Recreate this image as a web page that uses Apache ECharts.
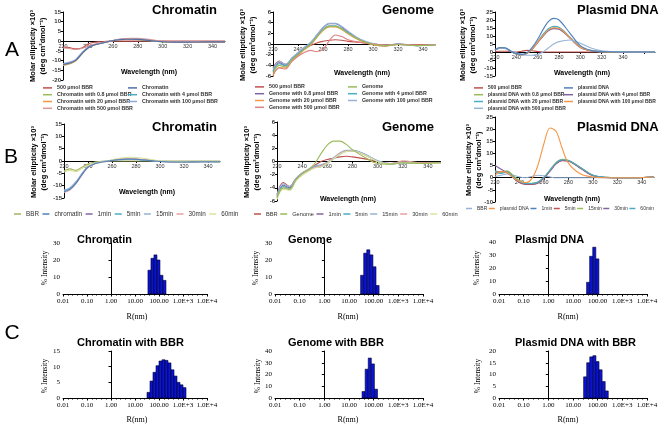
<!DOCTYPE html>
<html><head><meta charset="utf-8">
<script src="https://cdn.jsdelivr.net/npm/echarts@6/dist/echarts.min.js"></script>
<style>html,body{margin:0;padding:0;background:#fff}#c{width:661px;height:429px}</style>
</head><body><div id="c"></div>
<script>
// ---------- CD spectra data (wavelength nm, ellipticity x10^3) ----------
const WL = [220,225,230,235,240,245,250,255,260,265,270,275,280,290,300,310,320,335,350];
const WL_A3 = [220,225,230,235,240,245,250,255,260,265,270,275,280,290,300,310,320,335,350,370];

const A1_NAMES = ['500 μmol BBR','Chromatin','Chromatin with 0.8 μmol BBR','Chromatin with 4 μmol BBR','Chromatin with 20 μmol BBR','Chromatin with 100 μmol BBR','Chromatin with 500 μmol BBR'];
const A1_BBR  = [-3,-3.3,-4,-3.5,-1.5,-0.6,-0.3,-0.1,0,0,0,0,0,0,0,0,0,0,0];
const A1_CHR  = [-12,-11.4,-10,-6.5,-3.5,-2,-1.2,-0.4,0.2,0.7,1.0,1.0,0.9,0.3,-0.3,-0.5,-0.5,-0.4,-0.4];
const A1_C08  = [-12.5,-11.8,-10.3,-6.8,-3.6,-2.1,-1.2,-0.5,0.2,0.7,0.9,1.0,0.8,0.2,-0.4,-0.6,-0.6,-0.5,-0.5];
const A1_C4   = [-11.8,-11.2,-9.8,-6.3,-3.3,-1.9,-1.1,-0.4,0.3,0.8,1.1,1.1,1.0,0.3,-0.3,-0.5,-0.4,-0.4,-0.4];
const A1_C20  = [-12.3,-11.6,-10.1,-6.6,-3.5,-2.0,-1.1,-0.4,0.2,0.8,1.0,1.1,1.0,0.3,-0.3,-0.6,-0.5,-0.5,-0.5];
const A1_C100 = [-11.5,-10.8,-9.5,-6.1,-3.2,-1.8,-1.0,-0.3,0.3,0.9,1.2,1.2,1.1,0.4,-0.2,-0.4,-0.4,-0.3,-0.3];
const A1_C500 = [-3.5,-3.8,-4.3,-3.8,-2.5,-1.6,-1.0,-0.4,0.3,0.9,1.3,1.5,1.5,0.8,0,-0.3,-0.3,-0.3,-0.3];

const A2_NAMES = ['500 μmol BBR','Genome','Genome with 0.8 μmol BBR','Genome with 4 μmol BBR','Genome with 20 μmol BBR','Genome with 100 μmol BBR','Genome with 500 μmol BBR'];
const A2_BBR  = [-4.5,-3.2,-3.8,-3,-2,-1,-0.3,0.2,0.5,0.7,0.8,0.7,0.5,0.3,0,-0.2,0,-0.2,-0.1];
const A2_GEN  = [-5.5,-4,-4.3,-3,-2,-1,-0.1,1.3,2.6,3.3,3.3,2.8,2.0,0.7,-0.1,-0.3,-0.1,-0.3,-0.2];
const A2_G08  = [-5,-3.5,-4,-2.7,-1.7,-0.7,0.2,1.6,3.0,3.8,3.8,3.2,2.3,0.8,0,-0.3,0,-0.3,-0.1];
const A2_G4   = [-5.2,-3.7,-4.1,-2.9,-1.9,-0.9,0,1.4,2.7,3.4,3.4,2.9,2.1,0.7,-0.1,-0.4,-0.1,-0.3,-0.2];
const A2_G20  = [-6,-4.4,-4.5,-3.2,-2.2,-1.1,-0.2,1.2,2.5,3.2,3.2,2.7,1.9,0.6,-0.2,-0.4,-0.1,-0.2,-0.2];
const A2_G100 = [-4.8,-3.3,-3.8,-2.6,-1.6,-0.6,0.3,1.7,3.1,3.9,3.9,3.3,2.4,0.9,0.1,-0.2,0,-0.3,-0.1];
const A2_G500 = [-5.8,-4.5,-4.7,-3.3,-2.3,-1.6,-1.2,-1.4,-1,0.6,1.7,1.4,0.8,0.3,0,-0.2,-0.1,-0.2,-0.2];

const A3_NAMES = ['500 μmol BBR','plasmid DNA','plasmid DNA with 0.8 μmol BBR','plasmid DNA with 4 μmol BBR','plasmid DNA with 20 μmol BBR','plasmid DNA with 100 μmol BBR','plasmid DNA with 500 μmol BBR'];
const A3_BBR  = [0.3,0.5,0.5,0.3,0,0.5,1,0.8,0.3,0,0,0,0,0,0,0,0,0,0,0];
const A3_PLA  = [1.5,2.8,2.5,0.5,-1,-1.5,-0.5,3,8,14,19,21,20,12,4,1,0.3,0,0,0];
const A3_P08  = [1.2,2.5,2.3,0.3,-1.2,-1.7,-0.8,2,6,10,13.5,15,14.5,9,3,0.8,0.2,0,0,0];
const A3_P4   = [1.0,2.3,2.2,0.2,-1.3,-1.8,-0.9,1.8,5.8,9.8,13.2,14.6,14.2,8.8,2.8,0.7,0.2,0,0,0];
const A3_P20  = [1.3,2.6,2.4,0.4,-1.1,-1.6,-0.7,2.3,6.5,11,14.5,16,15.5,9.5,3.2,0.8,0.2,0,0,0];
const A3_P100 = [1.4,2.7,2.4,0.4,-1.2,-1.7,-0.8,2,6.2,10.3,13.8,15.2,14.8,9.2,3,0.8,0.2,0,0,0];
const A3_P500 = [1.5,2.5,2.0,0.5,-0.5,-1.5,-2,-2,-1.5,0,2.5,5,6.5,7.5,5.5,2.5,0.8,0.2,0,0];

const B1_NAMES = ['BBR','chromatin','1min','5min','15min','30min','60min'];
const B1_BBR = [-4,-3.2,-3.8,-2.5,-1.2,-0.5,-0.2,0,0,0,0,0,0,0,0,0,0,0,0];
const B1_CHR = [-12.5,-11.5,-9,-5.5,-2.5,-1.2,-0.6,-0.2,0.2,0.5,0.7,0.8,0.7,0.3,-0.2,-0.4,-0.4,-0.3,-0.3];
const B1_T1  = [-12,-11,-8.6,-5.2,-2.3,-1.1,-0.5,-0.1,0.3,0.6,0.8,0.8,0.7,0.3,-0.2,-0.4,-0.4,-0.3,-0.3];
const B1_T5  = [-12.2,-11.2,-8.8,-5.3,-2.4,-1.1,-0.5,-0.1,0.2,0.5,0.6,0.7,0.6,0.2,-0.2,-0.4,-0.4,-0.3,-0.4];
const B1_T15 = [-11.8,-10.8,-8.4,-5,-2.2,-1,-0.4,0,0.3,0.6,0.8,0.9,0.8,0.4,-0.1,-0.3,-0.3,-0.3,-0.3];
const B1_T30 = [-12.8,-11.8,-9.2,-5.6,-2.6,-1.3,-0.6,-0.2,0.2,0.6,0.9,1.0,0.9,0.4,-0.2,-0.4,-0.4,-0.3,-0.3];
const B1_T60 = [-4.5,-3.8,-4.3,-3,-1.8,-1,-0.4,0,0.5,1,1.3,1.5,1.4,0.8,0,-0.3,-0.3,-0.3,-0.3];

const B2_NAMES = ['BBR','Genome','1min','5min','15min','30min','60min'];
const B2_BBR = [-5,-3.2,-3.8,-2.6,-1.8,-1.2,-0.6,0,0.3,0.5,0.7,0.8,0.7,0.4,0,-0.3,-0.1,-0.2,-0.2];
const B2_GEN = [-5.5,-4,-4.2,-2.8,-1.8,-1.2,-0.3,1.2,2.5,3.1,3.1,2.6,1.8,0.6,-0.3,-0.4,-0.2,-0.3,-0.2];
const B2_T1  = [-5.2,-3.6,-4,-2.7,-1.8,-1.3,-0.8,-0.6,-0.2,0.5,1.2,1.6,1.6,1.0,0,-0.4,-0.2,-0.3,-0.2];
const B2_T5  = [-5.4,-3.8,-4.1,-2.8,-1.9,-1.4,-0.9,-0.8,-0.3,0.4,1.1,1.6,1.7,1.1,0.1,-0.4,-0.2,-0.3,-0.2];
const B2_T15 = [-5,-3.4,-3.8,-2.6,-1.7,-1.2,-0.7,-0.5,-0.1,0.6,1.3,1.7,1.7,1.1,0.1,-0.3,-0.1,-0.3,-0.2];
const B2_T30 = [-5.6,-4,-4.3,-2.9,-2,-1.4,-0.9,-0.7,-0.2,0.5,1.2,1.6,1.6,1.0,0,-0.4,0.1,-0.2,-0.2];
const B2_T60 = [-5.8,-4.2,-4.4,-3,-2.1,-1.5,-1,-0.8,-0.3,0.4,1.1,1.5,1.6,1.0,0,-0.4,-0.2,-0.3,-0.3];

const B3_NAMES = ['BBR','plasmid DNA','1min','5min','15min','30min','60min'];
const B3_BBR = [0.5,1,1.5,1,0.3,0,0.5,1,0.8,0.3,0,0,0,0,0,0,0,0,0.3];
const B3_PLA = [1,2.5,2,0,-1.5,-2,-0.5,5,14,20.5,19,12,6,1.5,0.3,0,0,0,0.3];
const B3_T1  = [3,2,2.5,0.5,-1.5,-2.5,-2.5,-2,0,3,6,7.3,7,4,1,0.2,0,0,0.3];
const B3_T5  = [2,2.5,2,0,-2,-2.8,-2.8,-2.3,-0.3,2.7,5.7,7.0,6.8,3.8,0.8,0.1,0,0,0.3];
const B3_T15 = [2.5,2,2.8,0.8,-1.2,-2.2,-2.3,-1.8,0.2,3.2,6.3,7.6,7.2,4.2,1,0.2,0,0,0.3];
const B3_T30 = [5,3.5,2,0,-1.8,-2.6,-2.6,-2.1,-0.1,2.9,5.9,7.2,7.0,4,0.9,0.1,0,0,0.3];
const B3_T60 = [2.2,1.8,2.2,0.3,-1.6,-2.4,-2.4,-1.9,0.1,3.1,6.1,7.4,7.1,4.1,1,0.2,0,0,0.3];

// ---------- DLS histograms (bin centre radius nm, % intensity) ----------
const C1_CHR_R = [40.0,53.4,71.2,95.0,126.6,168.9];
const C1_CHR_V = [14,21,23,20,11,8];
const C1_GEN_R = [34.1,45.5,60.6,80.8,107.8,143.7];
const C1_GEN_V = [11,24,26,23,16,5];
const C1_PLA_R = [41.0,54.6,72.9,97.2];
const C1_PLA_V = [9,29,36,27];
const C2_CHR_R = [36.5,48.7,64.9,86.6,115.5,154.0,205.4,273.8,365.2,486.9,649.4,865.9,1154.8];
const C2_CHR_V = [1.8,5.4,8.2,10.3,11.8,12.2,12.0,11.2,9.0,7.0,5.0,4.2,3.3];
const C2_GEN_R = [39.1,52.2,69.6,92.8,123.7];
const C2_GEN_V = [5.5,24.5,34,29,7.5];
const C2_PLA_R = [31.1,41.5,55.3,73.7,98.3,131.1,174.8,233.1];
const C2_PLA_V = [9,15,17.5,18,15.5,12,7,3];
const BIN = 0.125; // log10 width of a DLS bin

const DLS_TICKS = {'-2':'0.01','-1':'0.10','0':'1.00','1':'10.00','2':'100.00','3':'1.0E+3','4':'1.0E+4'};

const SANS = 'Liberation Sans, Arial, sans-serif';
const SERIF = 'Liberation Serif, Times New Roman, serif';

const CD = [
  {k:'A1', grid:{left:63,top:12,width:162,height:68}, xmax:350, y:[-20,15,5], wl:WL, names:A1_NAMES,
   data:[A1_BBR,A1_CHR,A1_C08,A1_C4,A1_C20,A1_C100,A1_C500],
   colors:['#C0504D','#4F6FA8','#9BBB59','#4BACC6','#F79646','#8FA9D6','#D99694'], leg:{type:'A', x1:43, x2:128, top:84.5, fs:5.3}},
  {k:'A2', grid:{left:273,top:12,width:162.5,height:64}, xmax:350, y:[-6,6,2], wl:WL, names:A2_NAMES,
   data:[A2_BBR,A2_GEN,A2_G08,A2_G4,A2_G20,A2_G100,A2_G500],
   colors:['#C0504D','#9BBB59','#8064A2','#4BACC6','#F79646','#95B3D7','#E08080'], leg:{type:'A', x1:255, x2:348, top:83.5, fs:5.3}},
  {k:'A3', grid:{left:495,top:12,width:160,height:64}, xmax:370, y:[-15,25,5], wl:WL_A3, names:A3_NAMES,
   data:[A3_BBR,A3_PLA,A3_P08,A3_P4,A3_P20,A3_P100,A3_P500],
   colors:['#C0504D','#4F81BD','#9BBB59','#8064A2','#4BACC6','#F79646','#95B3D7'], leg:{type:'A', x1:474, x2:564, top:84.5, fs:5.0}},
  {k:'B1', grid:{left:64,top:124,width:156,height:74}, xmax:350, y:[-15,15,5], wl:WL, names:B1_NAMES,
   data:[B1_BBR,B1_CHR,B1_T1,B1_T5,B1_T15,B1_T30,B1_T60],
   colors:['#A8B060','#4F81BD','#8064A2','#4BACC6','#95B3D7','#E6A0A0','#D7E4A0'], leg:{type:'B', x:14, top:211, fs:6.3, gap:3.5, iw:7}},
  {k:'B2', grid:{left:277,top:122,width:163.5,height:79}, xmax:350, y:[-6,6,2], wl:WL, names:B2_NAMES,
   data:[B2_BBR,B2_GEN,B2_T1,B2_T5,B2_T15,B2_T30,B2_T60],
   colors:['#C0504D','#9BBB59','#8064A2','#4BACC6','#95B3D7','#E6A0A0','#D7E4A0'], leg:{type:'B', x:254, top:211, fs:5.7, gap:2.5, iw:7}},
  {k:'B3', grid:{left:495,top:117,width:159,height:85}, xmax:350, y:[-10,25,5], wl:WL, names:B3_NAMES,
   data:[B3_BBR,B3_PLA,B3_T1,B3_T5,B3_T15,B3_T30,B3_T60],
   colors:['#95B3D7','#F79646','#4F81BD','#C0504D','#9BBB59','#8064A2','#4BACC6'], leg:{type:'B', x:466, top:206, fs:5.0, gap:1.5, iw:6}}
];

const DLS = [
  {grid:{left:63,top:243,width:144,height:51}, y:[0,30,10], R:C1_CHR_R, v:C1_CHR_V},
  {grid:{left:275,top:243,width:148,height:51}, y:[0,30,10], R:C1_GEN_R, v:C1_GEN_V},
  {grid:{left:499,top:242,width:148,height:52}, y:[0,40,10], R:C1_PLA_R, v:C1_PLA_V},
  {grid:{left:63,top:351,width:144,height:47}, y:[0,15,5], R:C2_CHR_R, v:C2_CHR_V},
  {grid:{left:275,top:351,width:148,height:47}, y:[0,40,10], R:C2_GEN_R, v:C2_GEN_V},
  {grid:{left:499,top:351,width:148,height:47}, y:[0,20,5], R:C2_PLA_R, v:C2_PLA_V}
];

const grids=[], xAxes=[], yAxes=[], series=[], legends=[], graphics=[];
const legFmt = n => n.split('|')[1];

CD.forEach((p,i)=>{
  grids.push(Object.assign({containLabel:false}, p.grid));
  // axis sits on the zero line: shift it up from the grid bottom
  const zeroOffset = -p.grid.height * (0 - p.y[0]) / (p.y[1] - p.y[0]);
  xAxes.push({type:'value', gridIndex:i, min:220, max:p.xmax, interval:20, position:'bottom', offset:zeroOffset,
    axisLine:{onZero:false, lineStyle:{color:'#000', width:1}},
    axisTick:{show:true, length:2, lineStyle:{color:'#000'}},
    axisLabel:{fontSize:5.5, color:'#333', margin:2, fontFamily:SANS, showMaxLabel:false,
      formatter: v => v>340 ? '' : String(v)},
    splitLine:{show:false}});
  yAxes.push({type:'value', gridIndex:i, min:p.y[0], max:p.y[1], interval:p.y[2],
    axisLine:{show:true, lineStyle:{color:'#000', width:1}},
    axisTick:{show:true, length:2, lineStyle:{color:'#000'}},
    axisLabel:{fontSize:6, color:'#333', margin:2, fontFamily:SANS, fontWeight:'bold'},
    splitLine:{show:false}});
  const keys = p.names.map(n => p.k+'|'+n);
  p.data.forEach((arr,j)=>{
    series.push({type:'line', name:keys[j], xAxisIndex:i, yAxisIndex:i,
      data: p.wl.map((w,t)=>[w, arr[t]]), showSymbol:false, smooth:0.35,
      lineStyle:{width:1.1, color:p.colors[j]}, itemStyle:{color:p.colors[j]}, z:2+(j===1?1:0)});
  });
  const common = {icon:'rect', itemWidth:9, itemHeight:1.5, padding:0, formatter:legFmt,
     selectedMode:false, textStyle:{fontSize:p.leg.fs, fontWeight:'bold', color:'#333', fontFamily:SANS, lineHeight:6.8}};
  if(p.leg.type==='A'){
    legends.push(Object.assign({}, common, {orient:'vertical', left:p.leg.x1, top:p.leg.top, itemGap:0,
      data:[keys[0],keys[2],keys[4],keys[6]]}));
    legends.push(Object.assign({}, common, {orient:'vertical', left:p.leg.x2, top:p.leg.top, itemGap:0,
      data:[keys[1],keys[3],keys[5]]}));
  } else {
    legends.push(Object.assign({}, common, {orient:'horizontal', left:p.leg.x, top:p.leg.top, itemGap:p.leg.gap, itemWidth:p.leg.iw,
      width:400, textStyle:{fontSize:p.leg.fs, color:'#333', fontFamily:SANS}, data:keys}));
  }
});

DLS.forEach((p,d)=>{
  const i = CD.length + d;
  grids.push(Object.assign({containLabel:false}, p.grid));
  xAxes.push({type:'value', gridIndex:i, min:-2, max:4, interval:1,
    axisLine:{onZero:false, lineStyle:{color:'#000', width:1}},
    axisTick:{show:true, length:2.5, lineStyle:{color:'#000'}},
    minorTick:{show:true, splitNumber:5, length:1.5, lineStyle:{color:'#000'}},
    axisLabel:{fontSize:7, color:'#000', margin:4, fontFamily:SERIF, formatter: v => DLS_TICKS[String(Math.round(v))]},
    splitLine:{show:false}});
  yAxes.push({type:'value', gridIndex:i, min:p.y[0], max:p.y[1], interval:p.y[2],
    axisLine:{show:true, lineStyle:{color:'#000', width:1}},
    axisTick:{show:true, length:2.5, lineStyle:{color:'#000'}},
    axisLabel:{fontSize:7, color:'#000', margin:3, fontFamily:SERIF},
    splitLine:{show:false}});
  series.push({type:'custom', xAxisIndex:i, yAxisIndex:i,
    data: p.R.map((r,t)=>[Math.log10(r), p.v[t]]),
    renderItem:(params, api)=>{
      const c = api.value(0), v = api.value(1);
      const a = api.coord([c-BIN/2, v]), b = api.coord([c+BIN/2, 0]);
      return {type:'rect', shape:{x:a[0], y:a[1], width:b[0]-a[0], height:b[1]-a[1]},
        style:{fill:'#0a14d2', stroke:'#000022', lineWidth:0.6}};
    }});
});

function txt(s, x, y, font, opt){
  graphics.push(Object.assign({type:'text', x:x, y:y, silent:true,
    style:{text:s, font:font, fill:'#000', align:'center', verticalAlign:'middle'}}, opt||{}));
}
function ltxt(s, x, y, font){
  graphics.push({type:'text', x:x, y:y, silent:true, style:{text:s, font:font, fill:'#000', align:'left', verticalAlign:'middle'}});
}
const ROT = Math.PI/2;
txt('A', 12, 50, '21px '+SANS); txt('B', 11, 157, '21px '+SANS); txt('C', 12, 333, '21px '+SANS);
const TF = 'bold 13px '+SANS;
ltxt('Chromatin', 152, 10, TF); ltxt('Genome', 382, 10, TF); ltxt('Plasmid DNA', 577, 10, TF);
ltxt('Chromatin', 152, 127, TF); ltxt('Genome', 382, 127, TF); ltxt('Plasmid DNA', 577, 127, TF);
const DF = 'bold 11px '+SANS;
ltxt('Chromatin', 77, 240, DF); ltxt('Genome', 288, 240, DF); ltxt('Plasmid DNA', 515, 240, DF);
ltxt('Chromatin with BBR', 77, 343, DF); ltxt('Genome with BBR', 288, 343, DF); ltxt('Plasmid DNA with BBR', 515, 343, DF);
const YT = 'Molar ellipticity \u00d710\u00b3\n(deg cm\u00b2dmol\u207b\u00b9)';
const YF = 'bold 7.5px '+SANS;
[[38,46],[248,45],[468,45],[39,162],[252,162],[474,160]].forEach(q=>{
  txt(YT, q[0], q[1], YF, {rotation:ROT}); });
graphics.forEach(g=>{ if(g.style.text===YT){ g.style.lineHeight = 10; }});
const WF = 'bold 7px '+SANS;
[[149,72],[362,73],[582,73],[147,192],[348,199],[572,199]].forEach(q=>txt('Wavelength (nm)', q[0], q[1], WF));
const RF = '8px '+SERIF;
[[137,317],[348,317],[568,317],[137,420],[348,420],[568,420]].forEach(q=>txt('R(nm)', q[0], q[1], RF));
[[45,268],[256,268],[477,268],[45,376],[258,376],[478,376]].forEach(q=>txt('% Intensity', q[0], q[1], '7.5px '+SERIF, {rotation:ROT}));

const chart = echarts.init(document.getElementById('c'), null, {renderer:'canvas', width:661, height:429});
chart.setOption({
  animation:false, backgroundColor:'#fff',
  grid:grids, xAxis:xAxes, yAxis:yAxes, series:series, legend:legends, graphic:graphics
});
</script>
</body></html>
